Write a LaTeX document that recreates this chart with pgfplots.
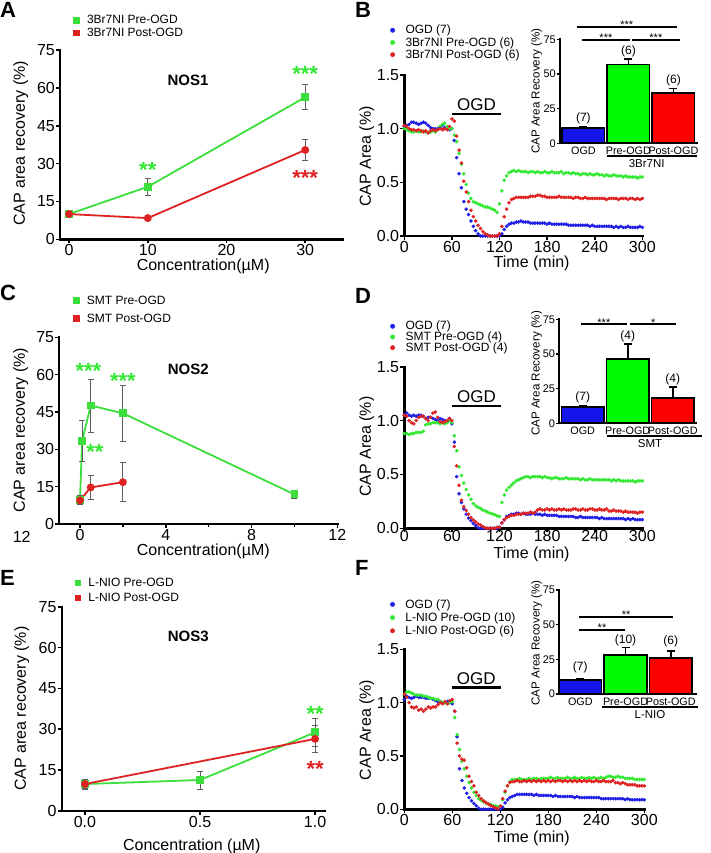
\documentclass[border=0pt]{standalone}
\usepackage{fontspec}
\setmainfont{Liberation Sans}
\usepackage{pgfplots}
\usepackage{pgfplotstable}
\pgfplotsset{compat=1.18}

\newcommand\fs[1]{\fontsize{#1}{#1}\selectfont}

\definecolor{grn}{RGB}{60,222,60}
\definecolor{rd}{RGB}{222,34,34}
\definecolor{bl}{RGB}{30,30,228}
\definecolor{dgrn}{RGB}{50,232,50}
\definecolor{barb}{RGB}{20,20,235}
\definecolor{barg}{RGB}{0,250,0}
\definecolor{barr}{RGB}{252,0,0}
\definecolor{errc}{RGB}{95,95,95}

% CAP area traces, t in min
\pgfplotstableread{
t ogd pre post
0 1.02 1.00 1.03
3 1.03 0.99 1.02
6 1.04 0.98 1.00
9 1.06 0.97 0.99
12 1.06 0.97 0.99
15 1.05 0.98 0.98
18 1.04 0.97 0.99
21 1.05 0.97 0.98
24 1.06 0.98 0.97
27 1.05 0.97 0.98
30 1.03 0.96 0.96
33 1.01 0.97 0.98
36 1.00 0.98 0.99
39 1.00 0.97 0.98
42 1.00 0.99 0.99
45 1.01 1.02 1.00
48 1.03 1.04 0.99
51 1.01 1.05 1.00
54 1.00 1.02 0.99
57 0.99 1.00 1.02
60 1.00 1.00 1.09
63 0.89 0.94 1.07
66 0.73 0.88 0.93
69 0.58 0.77 0.80
72 0.45 0.67 0.68
75 0.32 0.58 0.51
78 0.25 0.48 0.41
81 0.20 0.40 0.32
84 0.14 0.35 0.24
87 0.09 0.32 0.18
90 0.05 0.31 0.14
93 0.02 0.30 0.10
96 0.00 0.29 0.07
99 0.00 0.28 0.04
102 0.00 0.27 0.02
105 0.00 0.27 0.01
108 0.00 0.26 0.00
111 0.00 0.25 0.00
114 0.00 0.24 0.00
117 0.00 0.22 0.00
120 0.00 0.30 0.02
123 0.02 0.42 0.09
126 0.06 0.52 0.18
129 0.09 0.56 0.25
132 0.11 0.59 0.31
135 0.12 0.60 0.34
138 0.12 0.61 0.35
141 0.13 0.60 0.36
144 0.13 0.61 0.36
147 0.14 0.60 0.36
150 0.13 0.60 0.36
153 0.13 0.60 0.36
156 0.13 0.59 0.36
159 0.12 0.60 0.37
162 0.12 0.60 0.37
165 0.12 0.59 0.37
168 0.12 0.60 0.38
171 0.12 0.59 0.38
174 0.12 0.59 0.37
177 0.12 0.60 0.37
180 0.11 0.59 0.36
183 0.12 0.59 0.36
186 0.11 0.60 0.36
189 0.11 0.59 0.36
192 0.11 0.59 0.36
195 0.11 0.59 0.37
198 0.11 0.60 0.36
201 0.11 0.58 0.36
204 0.11 0.59 0.36
207 0.10 0.59 0.36
210 0.10 0.58 0.36
213 0.10 0.59 0.35
216 0.10 0.58 0.36
219 0.10 0.58 0.36
222 0.10 0.57 0.35
225 0.10 0.58 0.35
228 0.10 0.58 0.36
231 0.10 0.57 0.35
234 0.09 0.58 0.35
237 0.10 0.57 0.35
240 0.09 0.57 0.35
243 0.09 0.58 0.35
246 0.09 0.57 0.35
249 0.09 0.57 0.35
252 0.09 0.56 0.35
255 0.09 0.57 0.34
258 0.09 0.56 0.35
261 0.09 0.56 0.35
264 0.08 0.57 0.35
267 0.09 0.56 0.35
270 0.08 0.56 0.34
273 0.09 0.56 0.35
276 0.08 0.55 0.35
279 0.08 0.56 0.35
282 0.09 0.55 0.34
285 0.08 0.55 0.35
288 0.08 0.55 0.35
291 0.08 0.55 0.34
294 0.08 0.54 0.35
297 0.09 0.55 0.34
300 0.08 0.55 0.35
}\tabB

\pgfplotstableread{
t ogd pre post
0 1.05 0.88 1.05
3 1.07 0.88 1.04
6 1.05 0.87 1.00
9 1.04 0.88 0.98
12 1.05 0.88 0.97
15 1.04 0.89 1.00
18 1.05 0.89 1.03
21 1.05 0.89 1.04
24 1.04 0.90 1.04
27 1.02 0.96 1.02
30 1.03 0.97 1.00
33 1.03 0.97 1.03
36 1.02 0.98 1.07
39 1.01 0.98 1.08
42 1.00 0.98 1.03
45 1.02 0.97 0.99
48 1.01 0.98 0.98
51 1.00 0.97 0.99
54 0.99 0.98 1.00
57 1.02 1.00 1.02
60 0.97 0.98 1.00
63 0.80 0.86 0.76
66 0.48 0.72 0.58
69 0.32 0.57 0.40
72 0.24 0.49 0.26
75 0.18 0.42 0.20
78 0.13 0.36 0.165
81 0.095 0.31 0.13
84 0.07 0.27 0.10
87 0.045 0.23 0.077
90 0.025 0.21 0.06
93 0.005 0.195 0.04
96 0.00 0.185 0.03
99 0.00 0.17 0.015
102 0.00 0.16 0.005
105 0.00 0.15 0.00
108 0.00 0.14 0.00
111 0.00 0.135 0.00
114 0.00 0.125 0.00
117 0.00 0.115 0.01
120 0.01 0.11 0.01
123 0.05 0.24 0.05
126 0.08 0.31 0.08
129 0.11 0.355 0.10
132 0.12 0.38 0.11
135 0.13 0.40 0.12
138 0.13 0.42 0.12
141 0.14 0.44 0.13
144 0.14 0.45 0.13
147 0.13 0.46 0.13
150 0.14 0.47 0.14
153 0.13 0.48 0.14
156 0.13 0.48 0.14
159 0.13 0.47 0.15
162 0.14 0.48 0.14
165 0.13 0.48 0.15
168 0.13 0.48 0.17
171 0.13 0.48 0.18
174 0.12 0.47 0.17
177 0.13 0.48 0.17
180 0.12 0.47 0.18
183 0.12 0.47 0.17
186 0.12 0.46 0.18
189 0.12 0.47 0.17
192 0.12 0.47 0.17
195 0.11 0.46 0.18
198 0.11 0.46 0.17
201 0.11 0.46 0.18
204 0.11 0.47 0.17
207 0.11 0.46 0.17
210 0.11 0.46 0.17
213 0.11 0.46 0.18
216 0.10 0.46 0.18
219 0.10 0.46 0.17
222 0.11 0.45 0.17
225 0.10 0.46 0.18
228 0.10 0.45 0.17
231 0.10 0.45 0.17
234 0.10 0.46 0.18
237 0.10 0.45 0.18
240 0.10 0.45 0.17
243 0.10 0.45 0.17
246 0.09 0.45 0.18
249 0.10 0.45 0.17
252 0.09 0.45 0.17
255 0.09 0.45 0.18
258 0.09 0.45 0.16
261 0.09 0.44 0.16
264 0.09 0.45 0.17
267 0.09 0.44 0.16
270 0.09 0.45 0.16
273 0.09 0.44 0.16
276 0.09 0.44 0.15
279 0.08 0.44 0.16
282 0.09 0.44 0.15
285 0.08 0.44 0.15
288 0.09 0.44 0.15
291 0.08 0.43 0.15
294 0.08 0.44 0.14
297 0.08 0.44 0.15
300 0.08 0.44 0.15
}\tabD

\pgfplotstableread{
t ogd pre post
0 1.03 1.08 1.08
3 1.06 1.10 1.05
6 1.05 1.10 1.00
9 1.04 1.09 0.96
12 1.05 1.08 0.95
15 1.06 1.07 0.96
18 1.05 1.07 0.93
21 1.05 1.07 0.94
24 1.05 1.06 0.92
27 1.04 1.06 0.94
30 1.04 1.05 0.96
33 1.04 1.04 0.95
36 1.03 1.04 0.96
39 1.02 1.03 0.96
42 1.01 1.03 0.98
45 1.01 1.01 1.00
48 1.00 1.00 0.99
51 1.00 1.00 1.01
54 1.01 0.99 0.99
57 1.00 1.00 1.02
60 0.99 1.01 1.03
63 0.92 0.86 0.92
66 0.68 0.70 0.62
69 0.38 0.56 0.50
72 0.27 0.45 0.47
75 0.20 0.38 0.46
78 0.15 0.31 0.39
81 0.11 0.25 0.31
84 0.08 0.20 0.26
87 0.055 0.16 0.22
90 0.033 0.13 0.16
93 0.01 0.10 0.13
96 0.00 0.085 0.10
99 0.00 0.07 0.08
102 0.00 0.06 0.065
105 0.00 0.05 0.05
108 0.00 0.045 0.035
111 0.00 0.035 0.025
114 0.00 0.03 0.015
117 0.00 0.025 0.005
120 0.00 0.03 0.03
123 0.02 0.09 0.10
126 0.06 0.16 0.17
129 0.09 0.22 0.22
132 0.11 0.26 0.25
135 0.12 0.28 0.26
138 0.13 0.28 0.26
141 0.14 0.28 0.27
144 0.14 0.29 0.26
147 0.14 0.28 0.26
150 0.14 0.28 0.27
153 0.14 0.28 0.26
156 0.14 0.29 0.27
159 0.14 0.28 0.26
162 0.13 0.29 0.27
165 0.14 0.29 0.26
168 0.13 0.28 0.27
171 0.13 0.29 0.26
174 0.13 0.29 0.27
177 0.13 0.29 0.26
180 0.13 0.29 0.27
183 0.13 0.30 0.26
186 0.12 0.29 0.27
189 0.13 0.29 0.26
192 0.12 0.30 0.27
195 0.12 0.29 0.27
198 0.12 0.29 0.26
201 0.12 0.29 0.27
204 0.12 0.30 0.26
207 0.12 0.29 0.27
210 0.12 0.29 0.26
213 0.11 0.30 0.27
216 0.12 0.29 0.26
219 0.11 0.29 0.27
222 0.11 0.30 0.26
225 0.11 0.29 0.27
228 0.11 0.29 0.26
231 0.11 0.30 0.27
234 0.11 0.29 0.26
237 0.11 0.30 0.26
240 0.11 0.29 0.27
243 0.11 0.29 0.26
246 0.10 0.30 0.26
249 0.10 0.29 0.27
252 0.10 0.30 0.26
255 0.10 0.31 0.26
258 0.10 0.31 0.26
261 0.10 0.30 0.27
264 0.10 0.30 0.25
267 0.10 0.31 0.25
270 0.10 0.30 0.24
273 0.10 0.30 0.25
276 0.09 0.29 0.24
279 0.10 0.29 0.23
282 0.09 0.29 0.23
285 0.09 0.29 0.23
288 0.09 0.28 0.23
291 0.09 0.28 0.22
294 0.09 0.28 0.22
297 0.09 0.28 0.22
300 0.09 0.28 0.22
}\tabF

\pgfplotsset{
  base/.style={scale only axis, clip=false,
    axis x line=bottom, axis y line=left,
    axis line style={line width=2.4pt, -, line cap=rect},
    tick align=outside, major tick length=4pt, minor tick length=2.5pt,
    tick style={line width=1.6pt, black},
    tick label style={font=\fs{16}, inner sep=1pt},
    label style={font=\fs{16}},
    xlabel style={anchor=center}, ylabel style={anchor=center},
    /pgf/number format/assume math mode=true,
    legend style={draw=none, fill=none, font=\fs{12}, inner sep=0pt,
      anchor=north west, nodes={inner sep=1pt}},
    legend cell align=left},
  conc/.style={base, ymin=0, ymax=75, ytick={0,15,30,45,60,75},
    legend style={/tikz/every odd column/.append style={column sep=6pt}},
    legend image code/.code={\fill[##1] (0pt,-2.5pt) rectangle (5pt,2.5pt);}},
  trace/.style={base, xmin=0, xmax=300, ymin=0, ymax=1.5,
    xtick={0,60,120,180,240,300}, ytick={0,0.5,1,1.5},
    yticklabels={0.0,0.5,1.0,1.5},
    xlabel={Time (min)}, ylabel={CAP Area (\%)},
    legend style={/tikz/every odd column/.append style={column sep=9.5pt}},
    legend image code/.code={\fill[##1] (2.2pt,0pt) circle (2.2pt);}},
  inset/.style={scale only axis, clip=false, width=137pt, height=104pt,
    axis x line=bottom, axis y line=left,
    axis line style={line width=2.2pt, -, line cap=rect},
    ymin=0, ymax=75, ytick={0,25,50,75},
    xtick={0,1,2}, xticklabels={OGD,Pre-OGD,Post-OGD},
    tick align=outside, major tick length=3.5pt,
    ytick style={line width=1.4pt, black}, xtick style={draw=none},
    yticklabel style={font=\fs{11}, inner sep=0.5pt},
    xticklabel style={font=\fs{10.8}, inner sep=0pt},
    ylabel={CAP Area Recovery (\%)}, label style={font=\fs{11.6}},
    ylabel style={anchor=center},
    /pgf/number format/assume math mode=true},
  errs/.style={error bars/.cd, y dir=both, y explicit,
    error bar style={line width=0.8pt, errc},
    error mark options={rotate=90, mark size=3pt, line width=0.8pt, errc}},
  barerr/.style={error bars/.cd, y dir=plus, y explicit,
    error bar style={line width=1.6pt, black},
    error mark options={rotate=90, mark size=4pt, line width=1.6pt, black}},
  gline/.style={color=grn, line width=1.8pt, mark=square*, mark size=3pt, mark options={solid}},
  rline/.style={color=rd, line width=1.8pt, mark=*, mark size=3pt, mark options={solid}},
  onebar/.style={ybar, bar shift=0pt, bar width=0.94, draw=black, line width=1.8pt},
  dots/.style={only marks, mark=*, mark size=1.6pt},
}
\tikzset{
  bigst/.style={font=\fs{22}\bfseries, anchor=base, yshift=-12.8pt, inner sep=0pt},
  smst/.style={font=\fs{11}, anchor=base, yshift=-6.4pt, inner sep=0pt},
  nlab/.style={font=\fs{12}},
  letter/.style={font=\fs{22}\bfseries, anchor=base west, inner sep=0pt},
}

\begin{document}
\begin{tikzpicture}[x=1pt,y=-1pt]
\path[use as bounding box] (0,0) rectangle (710,853);

% ---------- A ----------
\begin{axis}[conc, at={(60pt,-239.3pt)}, anchor=south west, width=283pt, height=189.3pt,
  xmin=-1.15, xmax=34.8, xtick={0,10,20,30},
  xlabel={Concentration(µM)}, ylabel={CAP area recovery (\%)},
  xlabel style={at={(axis description cs:0.506,-0.145)}},
  ylabel style={at={(axis description cs:-0.139,0.507)}},
  legend style={at={(axis description cs:0.046,1.19)}, row sep=1pt}]
\addplot[gline, errs] coordinates {(0,10) +- (0,1.5) (10,20.8) +- (0,3.4) (30,56.3) +- (0,5)};
\addplot[rline, errs] coordinates {(0,10) +- (0,1.5) (10,8.4) +- (0,0.5) (30,35.4) +- (0,4)};
\legend{3Br7NI Pre-OGD, 3Br7NI Post-OGD}
\node[bigst, dgrn] at (axis cs:10,29.4) {**};
\node[bigst, dgrn] at (axis cs:30,67.5) {***};
\node[bigst, rd] at (axis cs:30,26.5) {***};
\end{axis}

% ---------- C ----------
\begin{axis}[conc, at={(59.3pt,-524pt)}, anchor=south west, width=278pt, height=186.7pt,
  xmin=-0.965, xmax=12, xtick={0,4,8,12}, minor xtick={2,6,10},
  xlabel={Concentration(µM)}, ylabel={CAP area recovery (\%)},
  xlabel style={at={(axis description cs:0.518,-0.146)}},
  ylabel style={at={(axis description cs:-0.139,0.503)}},
  legend style={at={(axis description cs:0.049,1.228)}, row sep=6pt}]
\addplot[gline, errs] coordinates {(0,9.8) +- (0,1.5) (0.1,33.4) +- (0,8.4) (0.5,47.6) +- (0,10.6) (2,44.5) +- (0,11.2) (10,11.9) +- (0,1.5)};
\addplot[rline, errs] coordinates {(0,9.5) +- (0,1.5) (0.5,14.7) +- (0,4.7) (2,16.8) +- (0,7.8)};
\legend{SMT Pre-OGD, SMT Post-OGD}
\node[bigst, dgrn] at (axis cs:0.39,63.5) {***};
\node[bigst, dgrn] at (axis cs:2.0,59.5) {***};
\node[bigst, dgrn] at (axis cs:0.7,31.1) {**};
\end{axis}

% ---------- E ----------
\begin{axis}[conc, at={(61.7pt,-810.7pt)}, anchor=south west, width=263.3pt, height=204pt,
  xmin=-0.101, xmax=1.043, xtick={0,0.5,1}, xticklabels={0.0,0.5,1.0},
  xlabel={Concentration (µM)}, ylabel={CAP area recovery (\%)},
  xlabel style={at={(axis description cs:0.494,-0.176)}},
  ylabel style={at={(axis description cs:-0.152,0.5)}},
  legend style={at={(axis description cs:0.048,1.146)}, row sep=3pt}]
\addplot[gline, errs] coordinates {(0,9.8) +- (0,1.5) (0.5,11.3) +- (0,3.3) (1,28.8) +- (0,5.1)};
\addplot[rline, errs] coordinates {(0,9.8) +- (0,1.8) (1,26.4) +- (0,5.1)};
\legend{L-NIO Pre-OGD, L-NIO Post-OGD}
\node[bigst, dgrn] at (axis cs:1,37.6) {**};
\node[bigst, rd] at (axis cs:1,17.4) {**};
\end{axis}

% ---------- B ----------
\begin{axis}[trace, at={(404.3pt,-236pt)}, anchor=south west, width=238pt, height=161pt,
  xlabel style={at={(axis description cs:0.535,-0.17)}},
  ylabel style={at={(axis description cs:-0.158,0.493)}},
  legend style={at={(axis description cs:-0.06,1.317)}, row sep=0pt}]
\addplot[dots, bl] table[x=t, y=ogd] {\tabB};
\addplot[dots, dgrn] table[x=t, y=pre] {\tabB};
\addplot[dots, rd] table[x=t, y=post] {\tabB};
\legend{OGD (7), 3Br7NI Pre-OGD (6), 3Br7NI Post-OGD (6)}
\draw[line width=2.5pt] (axis cs:60,1.137) -- (axis cs:122,1.137);
\node[font=\fs{17}] at (axis cs:91,1.22) {OGD};
\end{axis}

% ---------- D ----------
\begin{axis}[trace, at={(404.3pt,-528.3pt)}, anchor=south west, width=238pt, height=161.6pt,
  xticklabel style={yshift=3pt},
  xlabel style={at={(axis description cs:0.535,-0.16)}},
  ylabel style={at={(axis description cs:-0.158,0.505)}},
  legend style={at={(axis description cs:-0.06,1.289)}, row sep=-1.5pt}]
\addplot[dots, bl] table[x=t, y=ogd] {\tabD};
\addplot[dots, dgrn] table[x=t, y=pre] {\tabD};
\addplot[dots, rd] table[x=t, y=post] {\tabD};
\legend{OGD (7), SMT Pre-OGD (4), SMT Post-OGD (4)}
\draw[line width=2.5pt] (axis cs:60,1.136) -- (axis cs:122,1.136);
\node[font=\fs{17}] at (axis cs:91,1.222) {OGD};
\end{axis}

% ---------- F ----------
\begin{axis}[trace, at={(404.3pt,-809.3pt)}, anchor=south west, width=240pt, height=160pt,
  xlabel style={at={(axis description cs:0.531,-0.181)}},
  ylabel style={at={(axis description cs:-0.157,0.496)}},
  legend style={at={(axis description cs:-0.06,1.32)}, row sep=1pt}]
\addplot[dots, bl] table[x=t, y=ogd] {\tabF};
\addplot[dots, dgrn] table[x=t, y=pre] {\tabF};
\addplot[dots, rd] table[x=t, y=post] {\tabF};
\legend{OGD (7), L-NIO Pre-OGD (10), L-NIO Post-OGD (6)}
\draw[line width=2.5pt] (axis cs:59,1.14) -- (axis cs:121,1.14);
\node[font=\fs{17}] at (axis cs:90,1.228) {OGD};
\end{axis}

% ---------- insets ----------
\begin{axis}[inset, at={(560pt,-143.3pt)}, anchor=south west, xmin=-0.52, xmax=2.524,
  ylabel style={at={(axis description cs:-0.17,0.5)}}]
\addplot[onebar, fill=barb, barerr] coordinates {(0,10.8) +- (0,1.2)};
\addplot[onebar, fill=barg, barerr] coordinates {(1,56.9) +- (0,4)};
\addplot[onebar, fill=barr, barerr] coordinates {(2,36) +- (0,3.6)};
\node[nlab] at (axis cs:0,18) {(7)};
\node[nlab] at (axis cs:1,66.1) {(6)};
\node[nlab] at (axis cs:2,45.1) {(6)};
\draw[line width=2pt] (axis cs:-0.147,84.1) -- (axis cs:2.07,84.1);
\draw[line width=2pt] (axis cs:-0.036,74.5) -- (axis cs:1.04,74.5);
\draw[line width=2pt] (axis cs:1.075,74.5) -- (axis cs:2.15,74.5);
\node[smst] at (axis cs:0.964,87.3) {***};
\node[smst] at (axis cs:0.5,78.1) {***};
\node[smst] at (axis cs:1.61,78.1) {***};
\end{axis}

\begin{axis}[inset, at={(559.3pt,-423.3pt)}, anchor=south west, xmin=-0.52, xmax=2.524,
  ylabel style={at={(axis description cs:-0.165,0.48)}}]
\addplot[onebar, fill=barb, barerr] coordinates {(0,11.5) +- (0,1.2)};
\addplot[onebar, fill=barg, barerr] coordinates {(1,46.2) +- (0,10.8)};
\addplot[onebar, fill=barr, barerr] coordinates {(2,18.5) +- (0,7.5)};
\node[nlab] at (axis cs:0,18.75) {(7)};
\node[nlab] at (axis cs:1,62.45) {(4)};
\node[nlab] at (axis cs:2,31.7) {(4)};
\draw[line width=2pt] (axis cs:-0.036,71.4) -- (axis cs:0.978,71.4);
\draw[line width=2pt] (axis cs:1.053,71.4) -- (axis cs:2.076,71.4);
\node[smst] at (axis cs:0.47,74.5) {***};
\node[smst] at (axis cs:1.565,74.5) {*};
\end{axis}

\begin{axis}[inset, at={(559.3pt,-694pt)}, anchor=south west, xmin=-0.464, xmax=2.564,
  ylabel style={at={(axis description cs:-0.165,0.49)}}]
\addplot[onebar, fill=barb, barerr] coordinates {(0,10.1) +- (0,1.1)};
\addplot[onebar, fill=barg, barerr] coordinates {(1,28.1) +- (0,5.3)};
\addplot[onebar, fill=barr, barerr] coordinates {(2,26.2) +- (0,4.8)};
\node[nlab] at (axis cs:0,19.3) {(7)};
\node[nlab] at (axis cs:1,38.4) {(10)};
\node[nlab] at (axis cs:2,37.7) {(6)};
\draw[line width=2pt] (axis cs:-0.022,55.7) -- (axis cs:2.05,55.7);
\draw[line width=2pt] (axis cs:-0.022,46.2) -- (axis cs:0.987,46.2);
\node[smst] at (axis cs:1.015,59.3) {**};
\node[smst] at (axis cs:0.48,49.8) {**};
\end{axis}

% group brackets under insets
\draw[line width=2pt] (606.7,155.7) -- (696.7,155.7);
\node[font=\fs{11.5}] at (646.7,164) {3Br7NI};
\draw[line width=2pt] (606.7,435.7) -- (701.7,435.7);
\node[font=\fs{11.5}] at (650,444) {SMT};
\draw[line width=2pt] (601.7,706.7) -- (698.3,706.7);
\node[font=\fs{11.5}] at (650,715) {L-NIO};

% titles and panel letters
\node[font=\fs{15}\bfseries] at (188,80) {NOS1};
\node[font=\fs{15}\bfseries] at (188.3,369.3) {NOS2};
\node[font=\fs{15}\bfseries] at (188.3,636) {NOS3};
\node[font=\fs{16}] at (21.7,536.7) {12};
\node[letter] at (0,18) {A};
\node[letter] at (355,18) {B};
\node[letter] at (0,300) {C};
\node[letter] at (355,303) {D};
\node[letter] at (0,585) {E};
\node[letter] at (355,575) {F};
\end{tikzpicture}
\end{document}
